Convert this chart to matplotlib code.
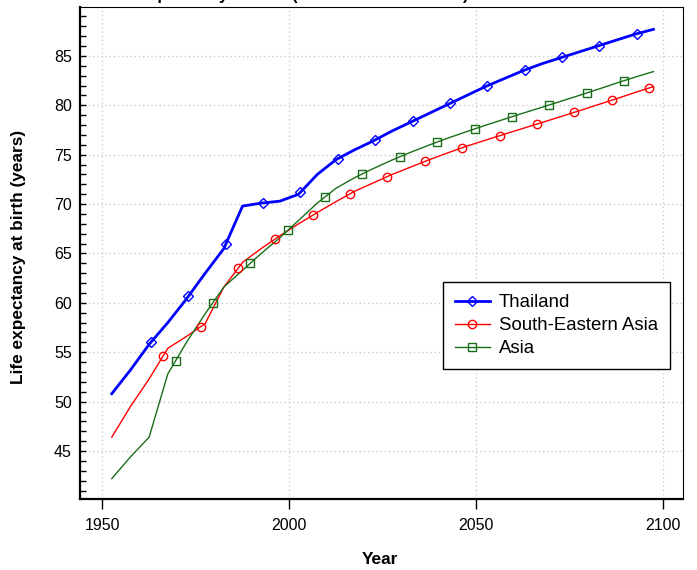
import numpy as np
import matplotlib
matplotlib.use("Agg")
import matplotlib.pyplot as plt
from matplotlib.lines import Line2D

plt.rcParams['font.family'] = ['Liberation Sans', 'DejaVu Sans']

# 5-year period midpoints
years = np.arange(1952.5, 2100, 5.0)

thailand = [50.8, 53.2, 55.8, 58.0, 60.4, 63.0, 65.5, 69.8, 70.1, 70.3,
            71.0, 73.0, 74.5, 75.5, 76.4, 77.4, 78.3, 79.2, 80.1, 81.0,
            81.9, 82.7, 83.5, 84.2, 84.8, 85.4, 86.0, 86.6, 87.2, 87.7]
se_asia = [46.4, 49.5, 52.3, 55.4, 56.6, 57.9, 61.6, 64.1, 65.5, 66.8,
           68.0, 69.15, 70.25, 71.3, 72.15, 73.0, 73.75, 74.5, 75.2, 75.87,
           76.47, 77.07, 77.66, 78.25, 78.84, 79.44, 80.05, 80.66, 81.29, 81.9]
asia = [42.2, 44.4, 46.4, 52.8, 56.0, 58.9, 61.6, 63.3, 65.0, 66.6,
        68.35, 70.1, 71.6, 72.68, 73.6, 74.46, 75.25, 75.99, 76.69, 77.34,
        77.98, 78.59, 79.2, 79.79, 80.39, 80.99, 81.61, 82.24, 82.85, 83.42]

labels = ['Thailand', 'South-Eastern Asia', 'Asia']
title = 'Life expectancy at birth (both sexes combined)'

series = [
    (thailand, '#0000FF', 2.0, 'D', 4.8, 1963.0),
    (se_asia, '#FF0000', 1.0, 'o', 6.0, 1966.3),
    (asia, '#1a6e1a', 1.0, 's', 5.2, 1969.6),
]

fig = plt.figure(figsize=(6.97, 5.70), dpi=100)
ax = fig.add_axes([80 / 697, 1 - 498.7 / 570, 603 / 697, 491.4 / 570])

handles = []
for (vals, col, lw, mk, ms, mk_start), lab in zip(series, labels):
    ax.plot(years, vals, color=col, lw=lw, zorder=3)
    # markers are spaced every 10 years along the line
    mk_years = np.arange(mk_start, 2098, 10.0)
    ax.plot(mk_years, np.interp(mk_years, years, vals), ls='none', marker=mk,
            ms=ms, mfc='none', mec=col, mew=1.0, zorder=4)
    handles.append(Line2D([], [], color=col, lw=lw, marker=mk, ms=ms,
                          mfc='none', mec=col, mew=1.0))

ax.set_xlim(1944.0, 2105.4)
ax.set_ylim(40.17, 89.93)
ax.set_xticks([1950, 2000, 2050, 2100])
ax.set_yticks(np.arange(45, 86, 5))
ax.set_yticks(np.arange(41, 90, 1), minor=True)

ax.grid(True, which='major', color='#cccccc', linestyle=(0, (1, 2)), lw=1.0)
ax.set_axisbelow(True)

ax.tick_params(axis='y', which='both', direction='in', length=4, width=1,
               labelsize=11.5, pad=6)
ax.tick_params(axis='x', which='major', direction='out', length=7, width=1,
               labelsize=11.5, pad=7)

for side in ['left', 'bottom']:
    ax.spines[side].set_linewidth(1.6)
for side in ['top', 'right']:
    ax.spines[side].set_linewidth(0.8)

ax.set_xlabel('Year', fontsize=12.4, fontweight='bold')
ax.set_ylabel('Life expectancy at birth (years)', fontsize=12.4, fontweight='bold')
ax.xaxis.set_label_coords(0.4967, -0.1247)
ax.xaxis.label.set_va('center')
ax.yaxis.set_label_coords(-0.1023, 0.493)
ax.yaxis.label.set_va('center')

leg = ax.legend(handles, labels, loc='upper left',
                bbox_to_anchor=(442.7 / 697, 1 - 282.3 / 570),
                bbox_transform=fig.transFigure, borderaxespad=0,
                fontsize=13.4, frameon=True, fancybox=False, framealpha=1,
                edgecolor='black', handlelength=1.9, handletextpad=0.45,
                borderpad=0.65, labelspacing=0.32)
leg.get_frame().set_linewidth(1.0)

# title sits mostly above the figure edge, as in the original
fig.text(105.5 / 697, 1.0 + 0.5 / 570, title, fontsize=11.7, fontweight='bold',
         ha='left', va='baseline')

plt.savefig('out.png', dpi=100)
